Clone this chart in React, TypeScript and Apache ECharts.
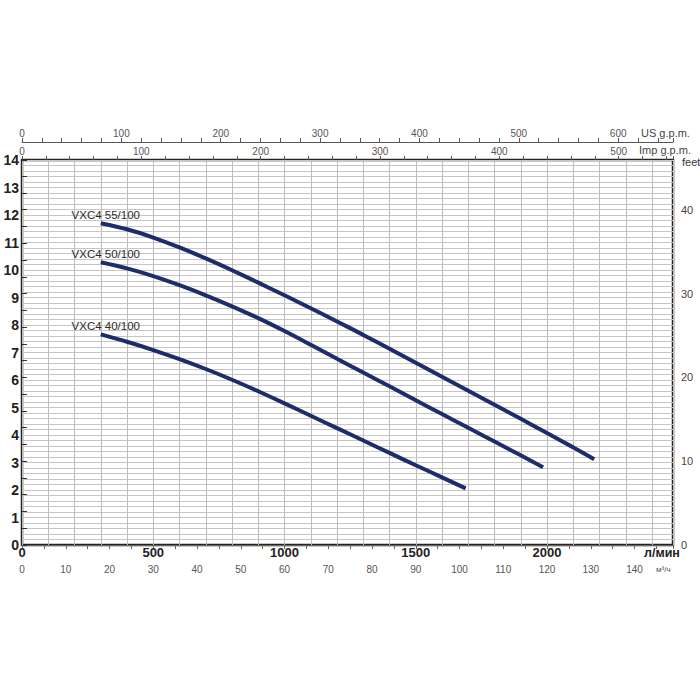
import React, { useEffect, useRef } from 'react';
import * as echarts from 'echarts';

// Flow in l/min, head in metres
const flow55 = [300, 400, 500, 600, 700, 800, 900, 1000, 1100, 1200, 1300, 1400, 1500, 1600, 1700, 1800, 1900, 2000, 2100, 2180];
const head55 = [11.7, 11.48, 11.18, 10.82, 10.42, 9.99, 9.54, 9.08, 8.61, 8.13, 7.64, 7.14, 6.63, 6.12, 5.61, 5.1, 4.59, 4.07, 3.55, 3.12];

const flow50 = [300, 400, 500, 600, 700, 800, 900, 1000, 1100, 1200, 1300, 1400, 1500, 1600, 1700, 1800, 1900, 1985];
const head50 = [10.28, 10.06, 9.78, 9.45, 9.08, 8.68, 8.25, 7.78, 7.28, 6.77, 6.27, 5.77, 5.26, 4.76, 4.26, 3.76, 3.26, 2.83];

const flow40 = [300, 400, 500, 600, 700, 800, 900, 1000, 1100, 1200, 1300, 1400, 1500, 1600, 1690];
const head40 = [7.66, 7.39, 7.09, 6.76, 6.4, 6.01, 5.59, 5.15, 4.7, 4.25, 3.8, 3.35, 2.9, 2.46, 2.06];

const seriesNames = ['VXC4 55/100', 'VXC4 50/100', 'VXC4 40/100'];

const FLOW_MAX = 2480; // l/min
const HEAD_MAX = 14; // m
const LPM_TO_M3H = 0.06;
const LPM_TO_USGPM = 0.264172;
const LPM_TO_IMPGPM = 0.219969;
const M_TO_FT = 3.28084;

const FONT = 'Arial, "Liberation Sans", sans-serif';
const FRAME = '#2a2219';
const CURVE = '#1f2c6c';

function makeSeries(name: string, flows: number[], heads: number[]) {
  return {
    type: 'line',
    name,
    xAxisIndex: 0,
    yAxisIndex: 0,
    smooth: 0.3,
    symbol: 'circle',
    symbolSize: 0,
    showSymbol: true,
    showAllSymbol: true,
    lineStyle: { color: CURVE, width: 4 },
    itemStyle: { color: CURVE },
    label: { show: false },
    data: flows.map((f, i) => {
      const item: any = { value: [f, heads[i]] };
      if (i === 0) {
        item.label = {
          show: true,
          position: 'top',
          distance: 2,
          offset: [5, 0],
          formatter: name,
          fontFamily: FONT,
          fontSize: 11.5,
          color: '#2a2a2a',
        };
      }
      return item;
    }),
  };
}

const isMult = (v: number, m: number) => Math.abs(v / m - Math.round(v / m)) < 1e-6;

export default function App() {
  const ref = useRef<HTMLDivElement>(null);
  useEffect(() => {
    const chart = echarts.init(ref.current!, null, { renderer: 'svg' });
    const option: any = {
      animation: false,
      backgroundColor: '#ffffff',
      textStyle: { fontFamily: FONT },
      grid: {
        left: 22,
        right: 27,
        top: 160,
        bottom: 155,
        show: true,
        borderColor: FRAME,
        borderWidth: 2.5,
        backgroundColor: 'transparent',
      },
      xAxis: [
        {
          type: 'value',
          position: 'bottom',
          min: 0,
          max: FLOW_MAX,
          interval: 100,
          axisLine: { show: false },
          axisTick: { show: false },
          axisLabel: {
            formatter: (v: number) => (isMult(v, 500) ? String(v) : ''),
            fontFamily: FONT,
            fontSize: 13,
            fontWeight: 'bold',
            color: '#222',
            margin: 1,
          },
          splitLine: { show: true, lineStyle: { color: '#bdbdbd', width: 1 } },
        },
        {
          type: 'value',
          position: 'bottom',
          offset: 16,
          min: 0,
          max: FLOW_MAX * LPM_TO_M3H,
          interval: 5,
          axisLine: { show: true, lineStyle: { color: '#666', width: 1 } },
          axisTick: { show: true, length: 4, lineStyle: { color: '#666' } },
          axisLabel: {
            formatter: (v: number) => (isMult(v, 10) ? String(v) : ''),
            fontFamily: FONT,
            fontSize: 10,
            color: '#555',
            margin: 3,
          },
          splitLine: { show: false },
        },
        {
          type: 'value',
          position: 'top',
          offset: 18,
          min: 0,
          max: FLOW_MAX * LPM_TO_USGPM,
          interval: 20,
          axisLine: { show: true, lineStyle: { color: '#555', width: 1 } },
          axisTick: { show: true, length: 4, lineStyle: { color: '#555' } },
          axisLabel: {
            formatter: (v: number) => (isMult(v, 100) ? String(v) : ''),
            fontFamily: FONT,
            fontSize: 10,
            color: '#555',
            margin: 4,
          },
          splitLine: { show: false },
        },
        {
          type: 'value',
          position: 'top',
          offset: 0,
          min: 0,
          max: FLOW_MAX * LPM_TO_IMPGPM,
          interval: 20,
          axisLine: { show: false },
          axisTick: { show: true, length: 4, lineStyle: { color: '#555' } },
          axisLabel: {
            formatter: (v: number) => (isMult(v, 100) ? String(v) : ''),
            fontFamily: FONT,
            fontSize: 10,
            color: '#555',
            margin: 4,
          },
          splitLine: { show: false },
        },
      ],
      yAxis: [
        {
          type: 'value',
          position: 'left',
          min: 0,
          max: HEAD_MAX,
          interval: 0.2,
          axisLine: { show: false },
          axisTick: { show: false },
          axisLabel: {
            formatter: (v: number) => (isMult(v, 1) ? String(Math.round(v)) : ''),
            fontFamily: FONT,
            fontSize: 14,
            fontWeight: 'bold',
            color: '#222',
            margin: 3,
          },
          splitLine: { show: true, lineStyle: { color: '#c6c6c6', width: 1 } },
        },
        {
          type: 'value',
          position: 'right',
          min: 0,
          max: HEAD_MAX * M_TO_FT,
          interval: 2,
          axisLine: { show: false },
          axisTick: { show: true, length: 5, lineStyle: { color: '#333' } },
          axisLabel: {
            formatter: (v: number) => (isMult(v, 10) ? String(Math.round(v)) : ''),
            fontFamily: FONT,
            fontSize: 11,
            color: '#444',
            margin: 8,
          },
          splitLine: { show: false },
        },
      ],
      graphic: [
        { type: 'text', left: 641, top: 127, style: { text: 'US g.p.m.', fontFamily: FONT, fontSize: 11, fill: '#444' } },
        { type: 'text', left: 639, top: 144, style: { text: 'Imp g.p.m.', fontFamily: FONT, fontSize: 11, fill: '#444' } },
        { type: 'text', left: 682, top: 156, style: { text: 'feet', fontFamily: FONT, fontSize: 11, fill: '#333' } },
        { type: 'text', left: 644, top: 546, style: { text: 'л/мин', fontFamily: FONT, fontSize: 12.5, fontWeight: 'bold', fill: '#222' } },
        { type: 'text', left: 656, top: 565, style: { text: 'м³/ч', fontFamily: FONT, fontSize: 8, fill: '#555' } },
      ],
      series: [
        makeSeries(seriesNames[0], flow55, head55),
        makeSeries(seriesNames[1], flow50, head50),
        makeSeries(seriesNames[2], flow40, head40),
      ],
    };
    chart.setOption(option);
    return () => chart.dispose();
  }, []);
  return (
    <div
      ref={ref}
      style={{ position: 'fixed', left: 0, top: 0, width: 700, height: 700, background: '#fff' }}
    />
  );
}
